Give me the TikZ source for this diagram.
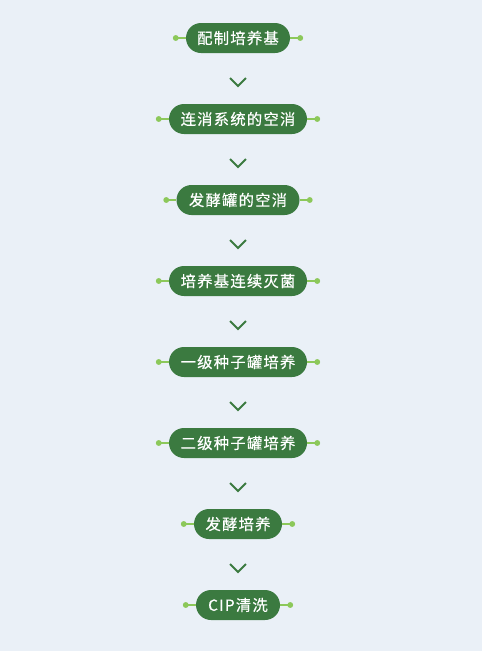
\documentclass[tikz,border=0pt]{standalone}
\usepackage{fontspec}
\newfontfamily\cjk[FakeBold=0.5]{Noto Sans CJK SC}
\definecolor{bg}{HTML}{EAF0F7}
\definecolor{pill}{HTML}{3B7A40}
\definecolor{dotc}{HTML}{8CC85A}
\definecolor{chev}{HTML}{3B7A40}
\begin{document}
\begin{tikzpicture}[x=0.75pt,y=-0.75pt,
  stepbox/.style={draw=none,fill=pill,rounded corners=11.25pt,minimum height=22.5pt,inner sep=0pt,text=white,font=\cjk\fontsize{11.5pt}{13pt}\selectfont},
  dotline/.style={dotc,line width=0.9pt},
  chevline/.style={chev,line width=1.5pt}]
\fill[bg] (0,0) rectangle (482,651);
\useasboundingbox (0,0) rectangle (482,651);
\foreach \i/\t/\w [count=\k] in {38/配制培养基/104, 119/连消系统的空消/138, 200/发酵罐的空消/123, 281/培养基连续灭菌/138, 362/一级种子罐培养/138, 443/二级种子罐培养/138, 524/发酵培养/88, 605/CIP清洗/84}{
  \node[stepbox,minimum width=\w*0.75pt] (n\k) at (238,\i) {\addfontfeature{LetterSpace=8}\t};
  \coordinate (l\k) at ([xshift=-7.5pt]n\k.west);
  \coordinate (r\k) at ([xshift=7.5pt]n\k.east);
  \draw[dotline] (n\k.west) -- (l\k);
  \draw[dotline] (n\k.east) -- (r\k);
  \fill[dotc] (l\k) circle (2.2pt);
  \fill[dotc] (r\k) circle (2.2pt);
}
\foreach \k/\y in {1/82,2/163,3/244,4/325,5/406,6/487,7/568}{
  \coordinate (c\k) at (238,\y);
  \draw[chevline] ([shift={(-6pt,3pt)}]c\k) -- ([shift={(0pt,-3pt)}]c\k) -- ([shift={(6pt,3pt)}]c\k);
}
\end{tikzpicture}
\end{document}
